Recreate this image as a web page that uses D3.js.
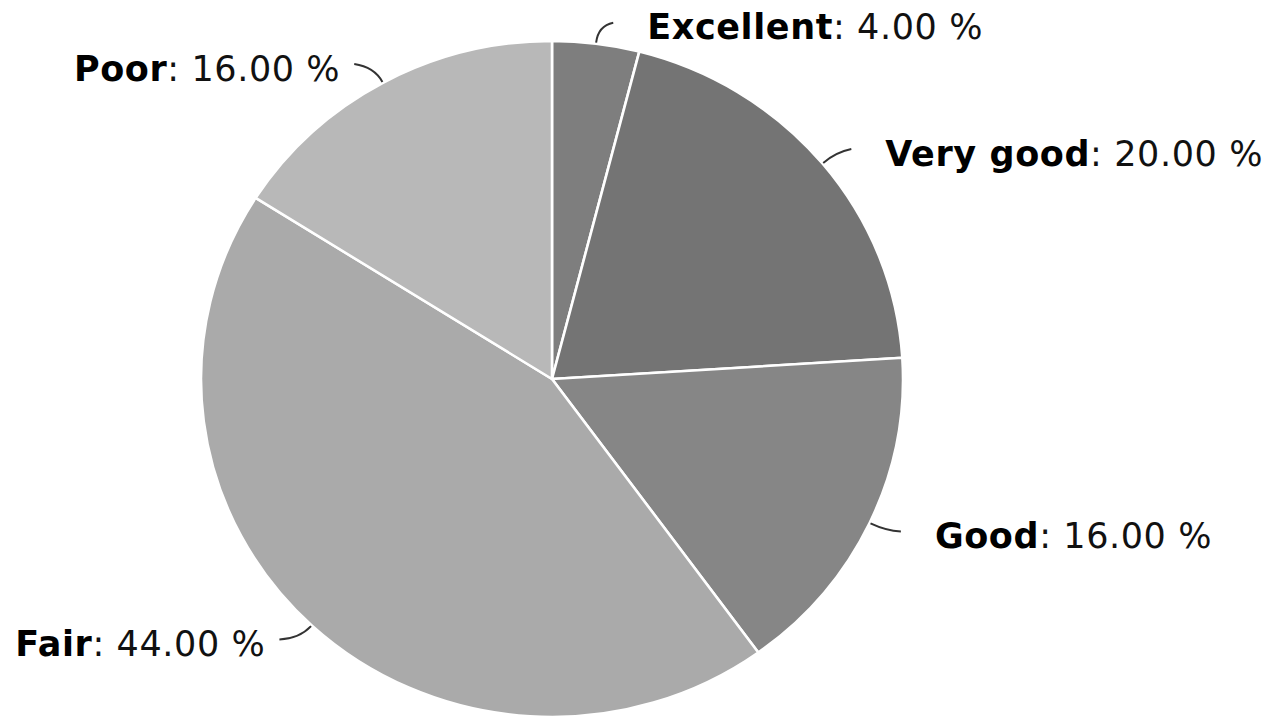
<!DOCTYPE html>
<html>
<head>
<meta charset="utf-8">
<script src="https://cdn.jsdelivr.net/npm/d3@7/dist/d3.min.js"></script>
<style>
  html, body { margin: 0; padding: 0; background: #fff; }
  svg { display: block; }
  text { font-family: "DejaVu Sans", Verdana, sans-serif; }
</style>
</head>
<body>
<svg id="chart" width="1269" height="718"></svg>
<script>
// Self-rated health shares (percent)
const categories = ["Excellent", "Very good", "Good", "Fair", "Poor"];
const shares = [4, 20, 16, 44, 16];
const colors = ["#7e7e7e", "#747474", "#868686", "#aaaaaa", "#b8b8b8"];

const width = 1269, height = 718;
const cx = 552, cy = 379;
const rx = 351, ry = 338;          // pie is drawn slightly wider than tall
const sx = rx / ry;

const svg = d3.select("#chart");

const pie = d3.pie().sort(null).value(d => d.value);
const arcs = pie(categories.map((c, i) => ({ name: c, value: shares[i], color: colors[i] })));

const arc = d3.arc().innerRadius(0).outerRadius(ry);

const g = svg.append("g").attr("transform", `translate(${cx},${cy}) scale(${sx},1)`);
g.selectAll("path.slice")
  .data(arcs)
  .enter().append("path")
  .attr("class", "slice")
  .attr("d", arc)
  .attr("fill", d => d.data.color)
  .attr("stroke", "#fff")
  .attr("stroke-width", 2.5)
  .attr("stroke-linejoin", "round");

// point on the (elliptical) rim at angle a, pushed out by extra px
function rim(a, extra) {
  return [cx + (rx + extra) * Math.sin(a), cy - (ry + extra) * Math.cos(a)];
}

const labels = svg.append("g");
arcs.forEach(d => {
  const a = (d.startAngle + d.endAngle) / 2;
  const right = Math.sin(a) >= 0;
  const p = rim(a, 1);
  const q = rim(a, 18);
  const end = [q[0] + (right ? 15 : -20), q[1] - (Math.cos(a) > 0 ? 3 : -1)];
  labels.append("path")
    .attr("d", `M${p[0]},${p[1]} Q${q[0]},${q[1]} ${end[0]},${end[1]}`)
    .attr("fill", "none")
    .attr("stroke", "#333")
    .attr("stroke-width", 2);

  const t = labels.append("text")
    .attr("x", right ? end[0] + 34 : end[0] - 14)
    .attr("y", end[1] + 4)
    .attr("dy", "0.36em")
    .attr("text-anchor", right ? "start" : "end")
    .attr("font-size", 35)
    .attr("letter-spacing", 0.6)
    .attr("fill", "#111");
  t.append("tspan").attr("font-weight", "bold").attr("fill", "#000").text(d.data.name);
  t.append("tspan").text(": " + d.data.value.toFixed(2) + " %");
});
</script>
</body>
</html>
